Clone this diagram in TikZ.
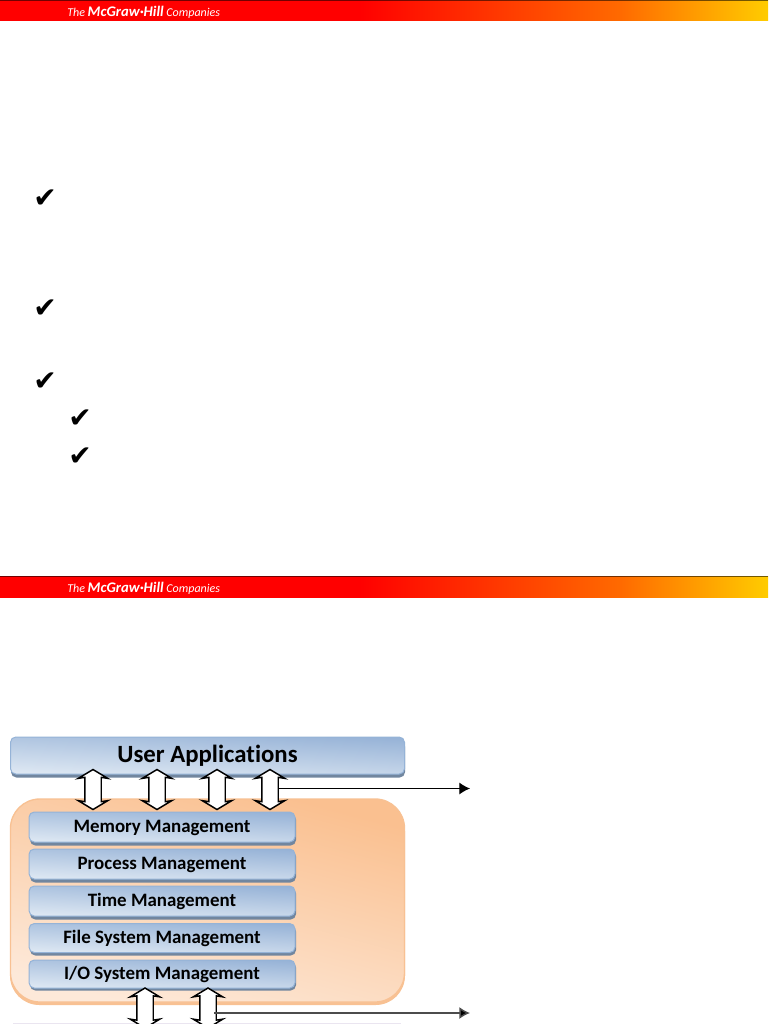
\documentclass[tikz,border=0pt]{standalone}
\usepackage{fontspec}
\setmainfont{Carlito}[Ligatures=NoCommon]
\newfontfamily\tickfont{DejaVu Sans}
\usetikzlibrary{shapes.arrows,arrows.meta}
\definecolor{hdrred}{HTML}{FF0000}
\definecolor{hdrmid}{HTML}{FF6A00}
\definecolor{hdrgold}{HTML}{FFCC00}
\definecolor{bluetop}{HTML}{97B3D7}
\definecolor{bluebot}{HTML}{DEE8F3}
\definecolor{blueedge}{HTML}{95B3D7}
\definecolor{blueshadow}{HTML}{71869F}
\definecolor{orangetop}{HTML}{FAC090}
\definecolor{orangebot}{HTML}{FDE9D9}
\definecolor{orangeedge}{HTML}{F8C193}
\definecolor{strip}{HTML}{EAE5F0}
\pgfdeclarehorizontalshading{hdrband}{100bp}{color(0bp)=(hdrred);color(48.4bp)=(hdrred);color(65.4bp)=(hdrmid);color(75bp)=(hdrgold);color(100bp)=(hdrgold)}
\def\px{0.75pt}
\tikzset{
  tickmark/.style={inner sep=0pt,font=\tickfont\fontsize{21}{21}\selectfont},
  hdrlabel/.style={inner sep=0pt,text=white,font=\fontsize{9}{12}\selectfont\itshape},
  bluebox/.style={rectangle,rounded corners=4pt,draw=blueedge,line width=0.75pt,
    top color=bluetop,bottom color=bluebot,shading angle=-3,
    text=black,font=\bfseries\fontsize{14.2}{15}\selectfont,inner sep=0pt},
  module/.style={bluebox,minimum width=266*\px,minimum height=30*\px,text height=10.4pt,text depth=2pt},
  dblarrow/.style={double arrow,rotate=90,draw=black,fill=white,line width=1.1pt,
    inner sep=0pt,minimum width=28*\px,minimum height=40*\px,
    text height=15*\px,text depth=0pt,
    double arrow head extend=6.5*\px,
    double arrow tip angle=118,double arrow head indent=1*\px},
  link/.style={draw=black,-{Latex[length=8pt,width=9pt,fill=black]}}
}
\begin{document}
\begin{tikzpicture}[x=0.75pt,y=-0.75pt]
\useasboundingbox (0,0) rectangle (768,1024);
\clip (0,0) rectangle (768,1024);
\fill[white] (0,0) rectangle (768,1024);
% header bands
\foreach \y in {0,576}{
  \shade[shading=hdrband] (0,\y) rectangle (768,\y+21);
  \fill[black,opacity=0.55] (0,\y) rectangle (768,\y+1);
}
\node[hdrlabel,anchor=west] (logoa) at (67,12.5) {The {\bfseries\fontsize{11}{12}\selectfont McGraw·Hill} Companies};
\node[hdrlabel,anchor=west] (logob) at (67,588.5) {The {\bfseries\fontsize{11}{12}\selectfont McGraw·Hill} Companies};
% ticks
\node[tickmark] (tka) at (45,199) {✔};
\node[tickmark] (tkb) at (45,309) {✔};
\node[tickmark] (tkc) at (45,382) {✔};
\node[tickmark] (tkd) at (80,419) {✔};
\node[tickmark] (tke) at (80,457) {✔};
% bottom strip
\fill[strip] (13,1022.5) rectangle (401,1025);
% user applications
\fill[blueshadow,rounded corners=4pt] (11,741) rectangle (405,777.5);
\node[bluebox,minimum width=394*\px,minimum height=37*\px,text height=13.5pt,text depth=3pt,font=\bfseries\fontsize{18.6}{20}\selectfont] (apps) at (207.5,755.5) {User Applications};
% kernel
\fill[orangeedge,rounded corners=22pt] (10,802) rectangle (405,1005);
\node[rectangle,rounded corners=22pt,draw=orangeedge,line width=1pt,top color=orangetop,bottom color=orangebot,shading angle=-15,minimum width=394*\px,minimum height=203*\px,inner sep=0pt] (kernel) at (207.5,900.5) {};
% modules
\foreach \a/\b in {814/845.5,851/882.5,888/919.5,926/955.5,962/990.5}{
  \fill[blueshadow,rounded corners=4pt] (30,\a) rectangle (296,\b);
}
\node[module] (mem) at (162,827) {Memory Management};
\node[module] (proc) at (162,864) {Process Management};
\node[module] (time) at (162,901) {Time Management};
\node[module,minimum height=29*\px] (file) at (162,938) {File System Management};
\node[module,minimum height=28*\px] (io) at (162,974) {I/O System Management};
% double arrows
\node[dblarrow] (ua) at (93,789.5) {};
\node[dblarrow] (ub) at (157,789.5) {};
\node[dblarrow] (uc) at (217,789.5) {};
\node[dblarrow] (ud) at (270,789.5) {};
\node[dblarrow] (la) at (145,1008) {};
\node[dblarrow] (lb) at (208,1008) {};
% connectors
\coordinate (upperend) at (470,788.5);
\coordinate (lowerend) at (470,1013);
\draw[link,line width=0.75pt] (ud.center |- upperend) ++(8,0) -- (upperend);
\draw[link,draw=black!70,line width=1.1pt,shorten <=4.5pt] (lb.center |- lowerend) -- (lowerend);
\end{tikzpicture}
\end{document}
